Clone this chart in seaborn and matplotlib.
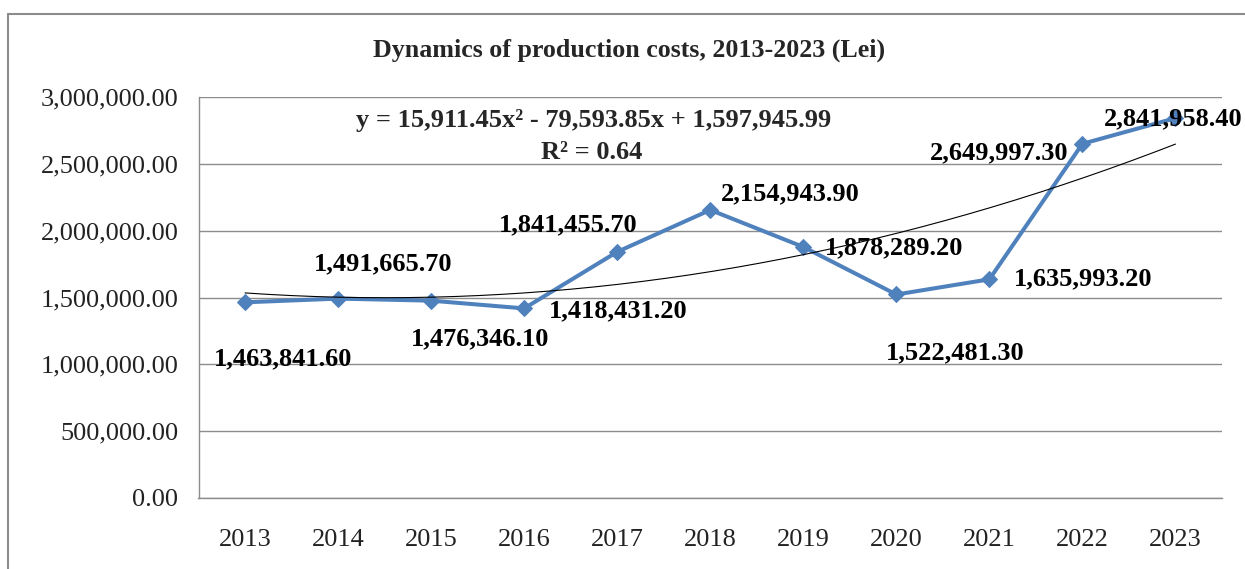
import numpy as np
import pandas as pd
import matplotlib
matplotlib.use("Agg")
import matplotlib.pyplot as plt
from matplotlib.lines import Line2D
from matplotlib.ticker import FuncFormatter, MultipleLocator
import seaborn as sns

# Production costs, Lei
years = [2013, 2014, 2015, 2016, 2017, 2018, 2019, 2020, 2021, 2022, 2023]
costs = [1463841.60, 1491665.70, 1476346.10, 1418431.20, 1841455.70, 2154943.90,
         1878289.20, 1522481.30, 1635993.20, 2649997.30, 2841958.40]

# Polynomial (order 2) trendline, x = 1..11
trend_a = 15911.45
trend_b = -79593.85
trend_c = 1597945.99
trend_r2 = 0.64

# Placement of each value label relative to its point (pixels)
label_dx = [38, 45, 49, 94, -49, 80, 91, 59, 94, -83, -2]
label_dy = [-56, 35, -38, -2, 27, 16, -1, -58, 1, -9, -1]

W, H = 1245, 569
BLUE = "#4F81BD"
GREY = "#8c8c8c"

sns.set_style("white")
plt.rcParams["font.family"] = ["Liberation Serif", "DejaVu Serif"]

fig = plt.figure(figsize=(W / 100, H / 100), dpi=100)
ax = fig.add_axes([198.5 / W, 1 - 498 / H, (1222 - 198.5) / W, (498 - 97) / H])

df = pd.DataFrame({"year": years, "cost": costs})
sns.lineplot(data=df, x="year", y="cost", ax=ax, color=BLUE, linewidth=2.9,
             marker="D", markersize=8, markeredgecolor=BLUE, zorder=3)

tx = np.linspace(1, len(years), 200)
ty = trend_a * tx ** 2 + trend_b * tx + trend_c
sns.lineplot(x=tx + years[0] - 1, y=ty, ax=ax, color="black", linewidth=0.8, zorder=4)

ax.set_xlim(years[0] - 0.5, years[-1] + 0.5)
ax.set_ylim(0, 3000000)
ax.yaxis.set_major_locator(MultipleLocator(500000))
ax.yaxis.set_major_formatter(FuncFormatter(lambda v, p: f"{v:,.2f}"))
ax.set_xticks(years)
ax.set_xticklabels([str(y) for y in years])
ax.set_xticks([y - 0.5 for y in years] + [years[-1] + 0.5], minor=True)
ax.set_xlabel("")
ax.set_ylabel("")

ax.yaxis.grid(True, color=GREY, linewidth=1)
ax.xaxis.grid(False)
for s in ("top", "right"):
    ax.spines[s].set_visible(False)
for s in ("left", "bottom"):
    ax.spines[s].set_color(GREY)
    ax.spines[s].set_linewidth(1)

ax.tick_params(axis="x", which="major", length=0, pad=22, labelsize=19, labelcolor="#222222")
ax.tick_params(axis="x", which="minor", length=5.5, width=1, color=GREY, direction="out")
ax.tick_params(axis="y", length=6.5, width=1, color=GREY, direction="out", pad=8,
               labelsize=19, labelcolor="#222222")

for yr, v, dx, dy in zip(years, costs, label_dx, label_dy):
    ax.annotate(f"{v:,.2f}", xy=(yr, v), xytext=(dx, dy), textcoords="offset pixels",
                ha="center", va="center", fontsize=19, fontweight="bold",
                color="black", zorder=5, annotation_clip=False)

sign = "-" if trend_b < 0 else "+"
eq = f"y = {trend_a:,.2f}x\u00b2 {sign} {abs(trend_b):,.2f}x + {trend_c:,.2f}"
fig.text(593.5 / W, 1 - 120 / H, eq, ha="center", va="center", fontsize=19, fontweight="bold")
fig.text(592 / W, 1 - 153 / H, f"R\u00b2 = {trend_r2:.2f}", ha="center", va="center",
         fontsize=19, fontweight="bold")

fig.text(629.5 / W, 1 - 50 / H, "Dynamics of production costs, 2013-2023 (Lei)",
         ha="center", va="center", fontsize=18.7, fontweight="bold")

# Chart frame
fig.add_artist(Line2D([8 / W, 8 / W], [0, 1 - 14 / H], transform=fig.transFigure,
                      color=GREY, linewidth=1.5))
fig.add_artist(Line2D([8 / W, 1], [1 - 14 / H, 1 - 14 / H], transform=fig.transFigure,
                      color=GREY, linewidth=1.5))

fig.savefig("out.png", dpi=100)
